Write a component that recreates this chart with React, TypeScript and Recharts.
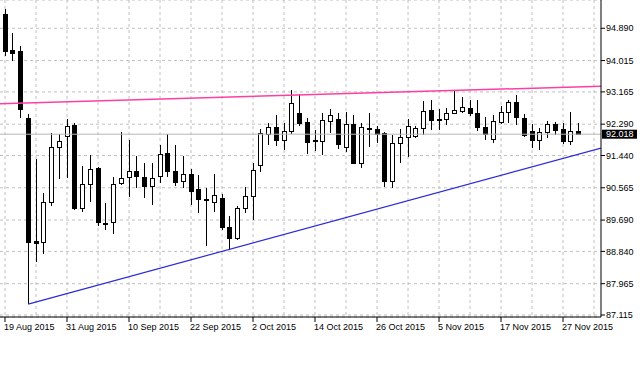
import { ComposedChart, XAxis, YAxis, CartesianGrid, Bar, ReferenceLine } from 'recharts'

// daily candles, 19 Aug 2015 .. 1 Dec 2015
const opens = [
  95.27, 94.29, 94.27, 92.45, 89.11, 89.09, 90.19, 91.67, 91.98, 92.26,
  90.02, 90.66, 91.1, 89.58, 89.63, 90.69, 90.85, 91.03, 90.85, 90.61,
  90.89, 91.52, 91.03, 90.74, 90.93, 90.53, 90.26, 90.19, 90.28, 89.5,
  89.19, 90.03, 90.35, 91.18, 92.03, 92.21, 91.87, 92.1, 92.6, 92.35,
  91.86, 91.84, 92.37, 92.42, 91.67, 92.29, 91.24, 92.18, 92.17, 92.04,
  90.75, 91.77, 91.93, 91.96, 92.19, 92.67, 92.42, 92.42, 92.58, 92.66,
  92.74, 92.58, 92.22, 91.88, 92.36, 92.63, 92.9, 92.47, 92.1, 91.87,
  92.07, 92.3, 92.17, 91.82, 92.11
]
const highs = [
  95.4, 94.75, 94.42, 92.56, 91.34, 90.42, 92.05, 92.02, 92.42, 92.32,
  91.15, 91.45, 91.12, 90.15, 90.85, 92.07, 91.86, 91.42, 91.23, 91.23,
  91.72, 92.02, 91.72, 91.42, 91.07, 90.91, 90.56, 90.93, 90.39, 89.81,
  90.07, 90.58, 91.23, 92.15, 92.33, 92.54, 92.32, 93.23, 93.12, 92.47,
  92.13, 92.6, 92.69, 92.6, 92.62, 92.53, 92.32, 92.58, 92.23, 92.09,
  91.99, 92.15, 92.44, 92.25, 92.91, 92.95, 92.69, 92.74, 93.23, 93.03,
  92.95, 92.95, 92.49, 92.53, 92.78, 92.94, 93.07, 92.57, 92.3, 92.18,
  92.37, 92.35, 92.31, 92.61, 92.32
]
const lows = [
  94.13, 94.0, 92.45, 87.41, 88.55, 88.77, 90.07, 90.8, 90.83, 89.97,
  89.91, 90.18, 89.53, 89.42, 89.31, 90.64, 90.31, 90.56, 90.29, 90.1,
  90.69, 90.85, 90.61, 90.56, 90.1, 89.88, 88.98, 89.91, 89.42, 88.88,
  89.15, 89.88, 89.7, 91.0, 91.72, 91.71, 91.59, 92.02, 92.24, 91.47,
  91.56, 91.45, 92.04, 91.63, 91.53, 91.21, 91.1, 91.67, 91.77, 90.58,
  90.57, 91.23, 91.4, 91.91, 91.99, 92.14, 92.14, 92.26, 92.56, 92.6,
  92.52, 92.1, 91.86, 91.77, 92.29, 92.32, 92.26, 91.95, 91.65, 91.59,
  91.91, 91.99, 91.75, 91.72, 92.0
]
const closes = [
  94.27, 94.23, 92.7, 89.09, 89.08, 90.18, 91.67, 91.83, 92.24, 90.02,
  90.66, 91.07, 89.63, 89.62, 90.68, 90.83, 91.02, 90.88, 90.61, 90.84,
  91.49, 91.02, 90.73, 90.93, 90.47, 90.26, 90.24, 90.38, 89.49, 89.2,
  90.01, 90.35, 91.04, 92.04, 92.2, 91.87, 92.1, 92.87, 92.33, 91.81,
  91.82, 92.4, 92.55, 91.75, 92.29, 91.23, 92.2, 92.15, 92.03, 90.74,
  91.77, 91.93, 92.24, 92.18, 92.66, 92.39, 92.4, 92.58, 92.67, 92.75,
  92.58, 92.22, 92.02, 92.37, 92.63, 92.9, 92.48, 91.99, 91.87, 92.07,
  92.3, 92.13, 91.83, 92.11, 92.018
]

const xTickBars = [0, 8, 16, 24, 32, 40, 48, 56, 64, 72]
const xTickLabels = [
  '19 Aug 2015', '31 Aug 2015', '10 Sep 2015', '22 Sep 2015', '2 Oct 2015',
  '14 Oct 2015', '26 Oct 2015', '5 Nov 2015', '17 Nov 2015', '27 Nov 2015'
]
const yTicks = [87.115, 87.965, 88.84, 89.69, 90.565, 91.44, 92.29, 93.165, 94.015, 94.89]
const gridBars = [0, 4, 8, 12, 16, 20, 24, 28, 32, 36, 40, 44, 48, 52, 56, 60, 64, 68, 72, 76]

const xDomain = [-0.645, 76.9]
const lastPrice = 92.018
const resistance = [{ i: -0.645, v: 92.845 }, { i: 76.9, v: 93.319 }]
const support = [{ i: 3, v: 87.41 }, { i: 76.9, v: 91.64 }]

const candles = opens.map((o, i) => ({
  i,
  o,
  c: closes[i],
  h: highs[i],
  l: lows[i],
  range: [lows[i], highs[i]]
}))

const FONT = '"Liberation Sans", Arial, sans-serif'

function Candle(props: any) {
  let { x, y, width, height, payload } = props
  if (height < 0) {
    y += height
    height = -height
  }
  const { o, c, h, l } = payload
  const cx = Math.round(x + width / 2) + 0.5
  const ppu = height / (h - l)
  const yOf = (v: number) => y + (h - v) * ppu
  const top = Math.round(yOf(Math.max(o, c))) + 0.5
  const bot = Math.round(yOf(Math.min(o, c))) + 0.5
  const up = c > o
  return (
    <g shapeRendering="crispEdges">
      <line x1={cx} x2={cx} y1={y} y2={y + height} stroke="#000" />
      <rect
        x={cx - 2}
        y={top}
        width={4}
        height={bot - top}
        fill={up ? '#fff' : '#000'}
        stroke="#000"
      />
    </g>
  )
}

function XTick(props: any) {
  const { x, y, payload } = props
  const idx = xTickBars.indexOf(payload.value)
  return (
    <text x={x - 1} y={y} dy="0.71em" fontSize={9} fontFamily={FONT} fill="#000" textAnchor="start">
      {xTickLabels[idx]}
    </text>
  )
}

function YTick(props: any) {
  const { x, y, payload } = props
  return (
    <text x={x - 1} y={y} dy="0.355em" fontSize={9} fontFamily={FONT} fill="#000" textAnchor="start">
      {payload.value.toFixed(3)}
    </text>
  )
}

function PriceTag(props: any) {
  const { x, y, width } = props.viewBox
  const left = x + width + 1
  return (
    <g>
      <rect x={left} y={y - 4.5} width={35} height={9} fill="#000" />
      <text x={left + 4} y={y} dy="0.355em" fontSize={9} fontFamily={FONT} fill="#fff">
        {lastPrice.toFixed(3)}
      </text>
    </g>
  )
}

// vertical grid every 4 bars, placed with the x axis scale when it is there
const verticalGrid = (args: any) => {
  const { xAxis, offset } = args
  if (xAxis && typeof xAxis.scale === 'function') {
    return gridBars.map((b) => xAxis.scale(b))
  }
  return gridBars.map(
    (b) => offset.left + ((b - xDomain[0]) / (xDomain[1] - xDomain[0])) * offset.width
  )
}

export default function App() {
  return (
    <div style={{ position: 'absolute', left: 0, top: 0, width: 640, height: 369, background: '#fff' }}>
      <ComposedChart
        width={640}
        height={369}
        data={candles}
        margin={{ top: 0, right: 0, bottom: 0, left: 0 }}
      >
        <CartesianGrid
          stroke="#c0c0c0"
          strokeDasharray="3 3"
          verticalCoordinatesGenerator={verticalGrid}
        />
        <XAxis
          dataKey="i"
          type="number"
          domain={xDomain}
          allowDataOverflow
          ticks={xTickBars}
          interval={0}
          height={52}
          tickSize={5}
          tickMargin={2}
          axisLine={{ stroke: '#000' }}
          tickLine={{ stroke: '#000' }}
          tick={<XTick />}
        />
        <YAxis
          orientation="right"
          type="number"
          domain={[87.061, 95.657]}
          allowDataOverflow
          ticks={yTicks}
          interval={0}
          width={39}
          tickSize={4}
          tickMargin={2}
          axisLine={{ stroke: '#000' }}
          tickLine={{ stroke: '#000' }}
          tick={<YTick />}
        />
        <ReferenceLine y={lastPrice} stroke="#b8b8b8" label={<PriceTag />} />
        <Bar dataKey="range" barSize={5} shape={<Candle />} isAnimationActive={false} />
        <ReferenceLine
          segment={[{ x: resistance[0].i, y: resistance[0].v }, { x: resistance[1].i, y: resistance[1].v }]}
          stroke="#ff3fa0"
          strokeWidth={1.5}
          ifOverflow="hidden"
        />
        <ReferenceLine
          segment={[{ x: support[0].i, y: support[0].v }, { x: support[1].i, y: support[1].v }]}
          stroke="#2a2ad8"
          strokeWidth={1.2}
          ifOverflow="hidden"
        />
      </ComposedChart>
    </div>
  )
}
